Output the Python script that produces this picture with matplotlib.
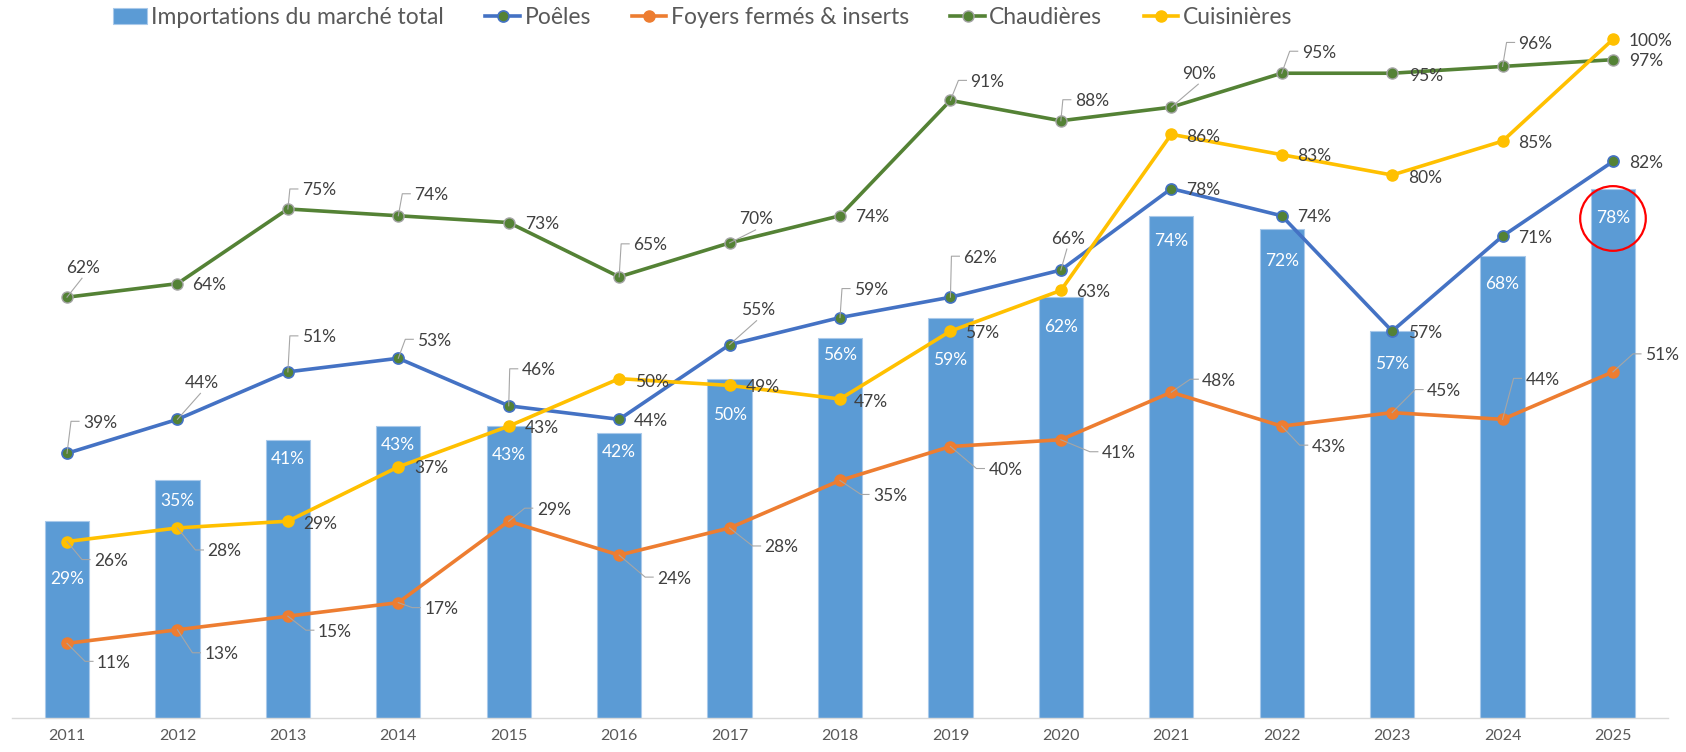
import matplotlib
matplotlib.use('Agg')
import matplotlib.pyplot as plt
from matplotlib.patches import Ellipse
from matplotlib.lines import Line2D
import numpy as np

# ---------------- data ----------------
years = ['2011', '2012', '2013', '2014', '2015', '2016', '2017', '2018',
         '2019', '2020', '2021', '2022', '2023', '2024', '2025']
imports_total = [29, 35, 41, 43, 43, 42, 50, 56, 59, 62, 74, 72, 57, 68, 78]
poeles = [39, 44, 51, 53, 46, 44, 55, 59, 62, 66, 78, 74, 57, 71, 82]
foyers = [11, 13, 15, 17, 29, 24, 28, 35, 40, 41, 48, 43, 45, 44, 51]
chaudieres = [62, 64, 75, 74, 73, 65, 70, 74, 91, 88, 90, 95, 95, 96, 97]
cuisinieres = [26, 28, 29, 37, 43, 50, 49, 47, 57, 63, 86, 83, 80, 85, 100]

series_names = ['Importations du marché total', 'Poêles', 'Foyers fermés & inserts',
                'Chaudières', 'Cuisinières']

# label placement (pixels: dx right, dy down) -- layout only
off_poeles = [(16, -32), (7, -38), (14, -36), (19, -19), (13, -37), (15, 0), (11, -36),
              (14, -29), (13, -41), (-10, -33), (15, 0), (15, 0), (16, 0), (16, 0), (16, 0)]
off_foyers = [(30, 18), (27, 23), (30, 14), (26, 5), (28, -13), (38, 22), (35, 18),
              (33, 14), (38, 22), (41, 12), (31, -13), (30, 19), (35, -23), (23, -41), (32, -18)]
off_chaud = [(-1, -31), (15, 0), (14, -20), (16, -22), (16, 0), (14, -33), (10, -25),
             (15, 0), (20, -20), (14, -21), (11, -35), (20, -22), (17, 1), (16, -24), (16, 0)]
off_cuis = [(27, 18), (30, 22), (15, 1), (16, 0), (16, 0), (16, 2), (16, 0), (14, 1),
            (15, 0), (15, 0), (15, 1), (15, 0), (16, 1), (16, 0), (16, 0)]
bar_label_dy = [56, 19, 18, 17, 27, 18, 35, 16, 41, 28, 24, 30, 31, 26, 28]

plt.rcParams['font.family'] = ['Lato', 'DejaVu Sans']

W, H = 1686, 752
fig = plt.figure(figsize=(W / 100, H / 100), dpi=100)
ax = fig.add_axes([11.8 / W, 34 / H, 1656.4 / W, (718 - 39.3) / H])
x = np.arange(len(years))
ax.set_xlim(-0.5, len(years) - 0.5)
ax.set_ylim(0, 100)

BLUE_BAR = '#5B9BD5'
C_POE = '#4472C4'
C_FOY = '#ED7D31'
C_CHA = '#548235'
C_CUI = '#FFC000'
TXT = '#404040'
LBL_FS = 12.5

bars = ax.bar(x, imports_total, width=0.4, color=BLUE_BAR, edgecolor='#A9C9EA',
              linewidth=0.8, zorder=1, label=series_names[0])

lw = 2.6
ms = 8
h1, = ax.plot(x, poeles, color=C_POE, lw=lw, marker='o', ms=ms, mfc=C_CHA, mec=C_POE,
              mew=1.2, zorder=3, label=series_names[1], clip_on=False)
h2, = ax.plot(x, foyers, color=C_FOY, lw=lw, marker='o', ms=ms, mfc=C_FOY, mec=C_FOY,
              zorder=3, label=series_names[2], clip_on=False)
h3, = ax.plot(x, chaudieres, color=C_CHA, lw=lw, marker='o', ms=ms, mfc=C_CHA, mec='#A5A5A5',
              mew=1.0, zorder=3, label=series_names[3], clip_on=False)
h4, = ax.plot(x, cuisinieres, color=C_CUI, lw=lw, marker='o', ms=ms, mfc=C_CUI, mec=C_CUI,
              zorder=4, label=series_names[4], clip_on=False)

inv = ax.transData.inverted()


def add_labels(vals, offs):
    for i, (v, (dx, dy)) in enumerate(zip(vals, offs)):
        ax.annotate(f"{v}%", (x[i], v), xytext=(dx, -dy), textcoords='offset pixels',
                    ha='left', va='center_baseline', fontsize=LBL_FS, color=TXT, zorder=7,
                    annotation_clip=False)
        if dx > 20 or abs(dy) > 8:
            px, py = ax.transData.transform((x[i], v))
            lx, ly = px + dx, py - dy
            if dx >= 12:
                pts = [(px, py), (lx - 12, ly), (lx - 4, ly)]
            else:
                pts = [(px, py), (lx + 16, ly - 12 if dy < 0 else ly + 12)]
            dpts = inv.transform(pts)
            ax.add_line(Line2D(dpts[:, 0], dpts[:, 1], color='#A6A6A6', lw=0.8,
                               zorder=6, clip_on=False))


add_labels(poeles, off_poeles)
add_labels(foyers, off_foyers)
add_labels(chaudieres, off_chaud)
add_labels(cuisinieres, off_cuis)

for i, v in enumerate(imports_total):
    ax.annotate(f"{v}%", (x[i], v), xytext=(0, -bar_label_dy[i]), textcoords='offset pixels',
                ha='center', va='center_baseline', fontsize=LBL_FS, color='white', zorder=2)

# red highlight circle around the last bar label
ax.add_patch(Ellipse((14, 73.6), 0.594, 9.53, fill=False, ec='#FF0000', lw=1.6, zorder=8))

for s in ['top', 'right', 'left']:
    ax.spines[s].set_visible(False)
ax.spines['bottom'].set_color('#D9D9D9')
ax.spines['bottom'].set_linewidth(1.0)
ax.set_yticks([])
ax.set_xticks(x)
ax.set_xticklabels(years, fontsize=11.5, color='#595959')
ax.tick_params(axis='x', length=0, pad=8)

fig.legend(handles=[bars, h1, h2, h3, h4], labels=series_names,
           loc='center', bbox_to_anchor=(0.4165, 0.977), ncol=5, frameon=False,
           fontsize=16.5, handlelength=1.5, handletextpad=0.2, columnspacing=1.8,
           labelcolor='#595959', borderaxespad=0)

fig.savefig('out.png', dpi=100)
